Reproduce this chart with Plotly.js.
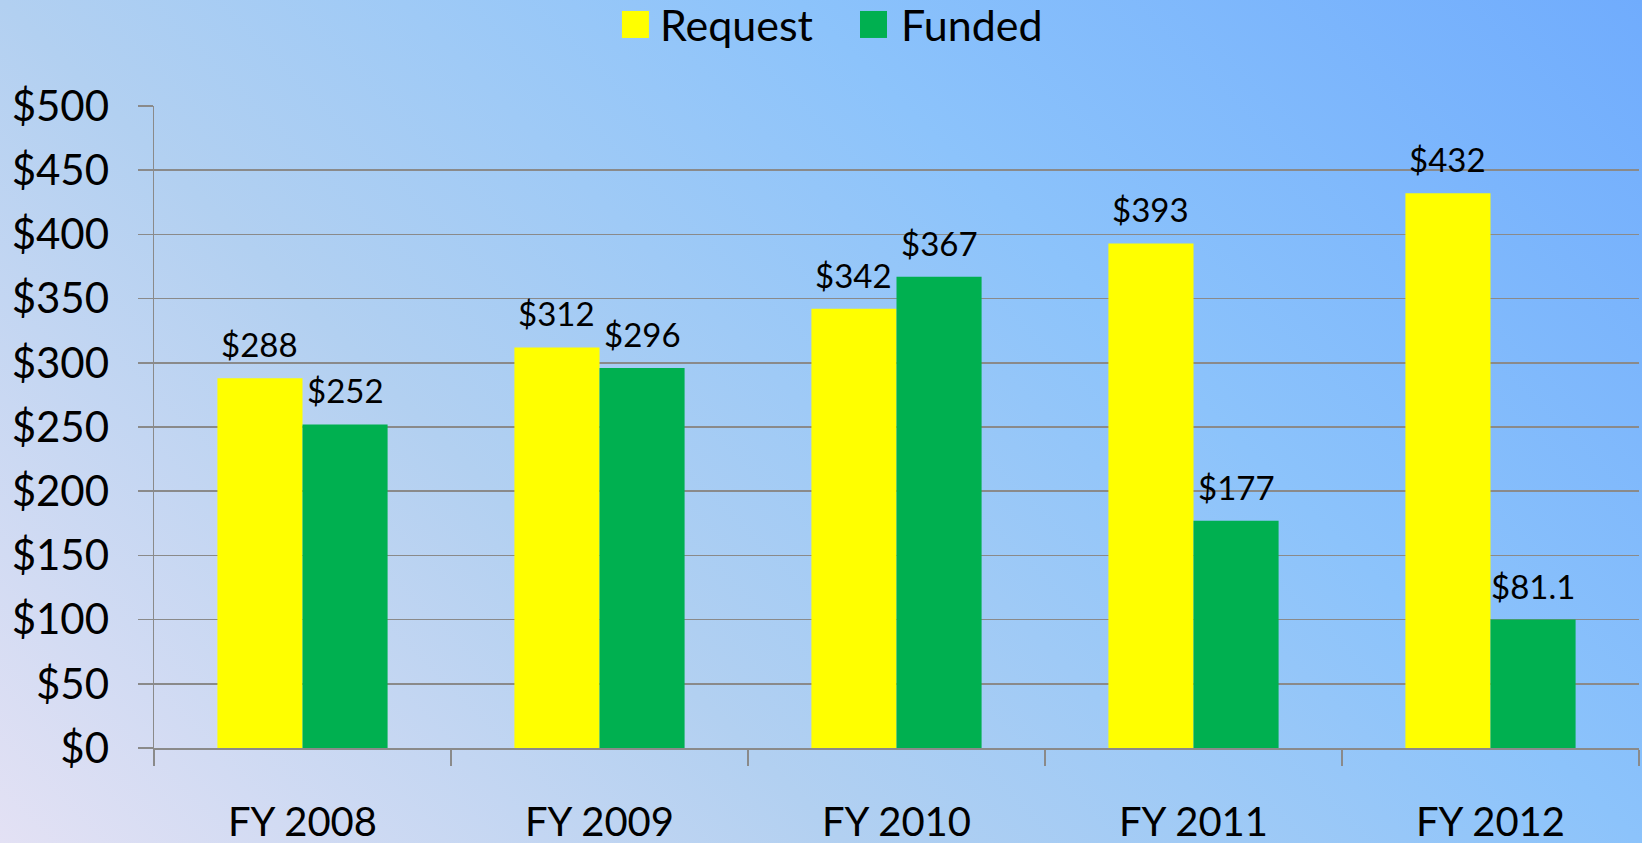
<!DOCTYPE html>
<html>
<head>
<meta charset="utf-8">
<script src="https://cdn.plot.ly/plotly-3.0.1.min.js"></script>
<style>
  html, body { margin: 0; padding: 0; }
  #chart {
    width: 1642px; height: 843px;
    background: linear-gradient(45deg, #e3e1f4 0%, #b2d0f1 34%, #9fcaf6 50%, #8cc3fb 66%, #70acfd 100%);
  }
</style>
</head>
<body>
<div id="chart"></div>
<script>
const categories = ["FY 2008", "FY 2009", "FY 2010", "FY 2011", "FY 2012"];
const requestValues = [288, 312, 342, 393, 432];
const fundedValues = [252, 296, 367, 177, 100];
const requestLabels = ["$288", "$312", "$342", "$393", "$432"];
const fundedLabels = ["$252", "$296", "$367", "$177", "$81.1"];
const seriesNames = ["Request", "Funded"];
const seriesColors = ["#ffff00", "#00b050"];

const FONT = "Lato, 'Open Sans', sans-serif";
const GRID = "#8a8a8a";
const BAR_W = 0.2865;               // bar width in category units
const offsets = [-BAR_W, 0];         // request left, funded right

const seriesValues = [requestValues, fundedValues];
const seriesLabels = [requestLabels, fundedLabels];

const traces = seriesNames.map((n, s) => ({
  type: "bar", name: n, x: categories, y: seriesValues[s],
  width: BAR_W, offset: offsets[s],
  marker: { color: seriesColors[s], line: { width: 0 } },
  showlegend: false, hoverinfo: "x+y"
}));

// value labels above each bar
const annotations = [];
seriesNames.forEach((n, s) => {
  categories.forEach((c, i) => {
    annotations.push({
      xref: "x", yref: "y",
      x: i + offsets[s] + BAR_W / 2, y: seriesValues[s][i],
      text: seriesLabels[s][i], showarrow: false,
      xanchor: "center", yanchor: "bottom", yshift: 12,
      font: { family: FONT, size: 33, color: "#000" }
    });
  });
});

// custom legend (large square keys)
const legendKeyX = [0.3242, 0.4845];
const legendTextX = [0.340, 0.5024];
const legendY = 1.127;
const shapes = seriesNames.map((n, i) => ({
  type: "rect", xref: "paper", yref: "paper",
  xsizemode: "pixel", ysizemode: "pixel",
  xanchor: legendKeyX[i], yanchor: legendY,
  x0: -13.5, x1: 13.5, y0: -13.5, y1: 13.5,
  fillcolor: seriesColors[i], line: { width: 0 }
}));
seriesNames.forEach((n, i) => annotations.push({
  text: n, xref: "paper", yref: "paper",
  x: legendTextX[i], y: legendY, xanchor: "left", yanchor: "middle",
  showarrow: false, borderpad: 0,
  font: { family: FONT, size: 43, color: "#000" }
}));

const layout = {
  width: 1642, height: 843,
  paper_bgcolor: "rgba(0,0,0,0)", plot_bgcolor: "rgba(0,0,0,0)",
  margin: { l: 154, r: 3, t: 106, b: 95 },
  font: { family: FONT, color: "#000" },
  barmode: "group",
  showlegend: false,
  xaxis: {
    type: "category", tickson: "boundaries", range: [-0.5, categories.length - 0.5],
    ticks: "outside", ticklen: 16, tickwidth: 1.5, tickcolor: GRID,
    showline: true, linecolor: GRID, linewidth: 1.5,
    showgrid: false, zeroline: false,
    tickfont: { family: FONT, size: 40, color: "#000" },
    ticklabelstandoff: 38
  },
  yaxis: {
    range: [0, 500], tickmode: "linear", tick0: 0, dtick: 50,
    tickprefix: "$", showtickprefix: "all",
    ticks: "outside", ticklen: 15, tickwidth: 1.5, tickcolor: GRID,
    showline: true, linecolor: GRID, linewidth: 1.5,
    showgrid: true, gridcolor: GRID, gridwidth: 1.5, zeroline: false,
    tickfont: { family: FONT, size: 42, color: "#000" },
    ticklabelstandoff: 20
  },
  shapes: shapes,
  annotations: annotations
};

Plotly.newPlot("chart", traces, layout, { displayModeBar: false, staticPlot: true });
</script>
</body>
</html>
